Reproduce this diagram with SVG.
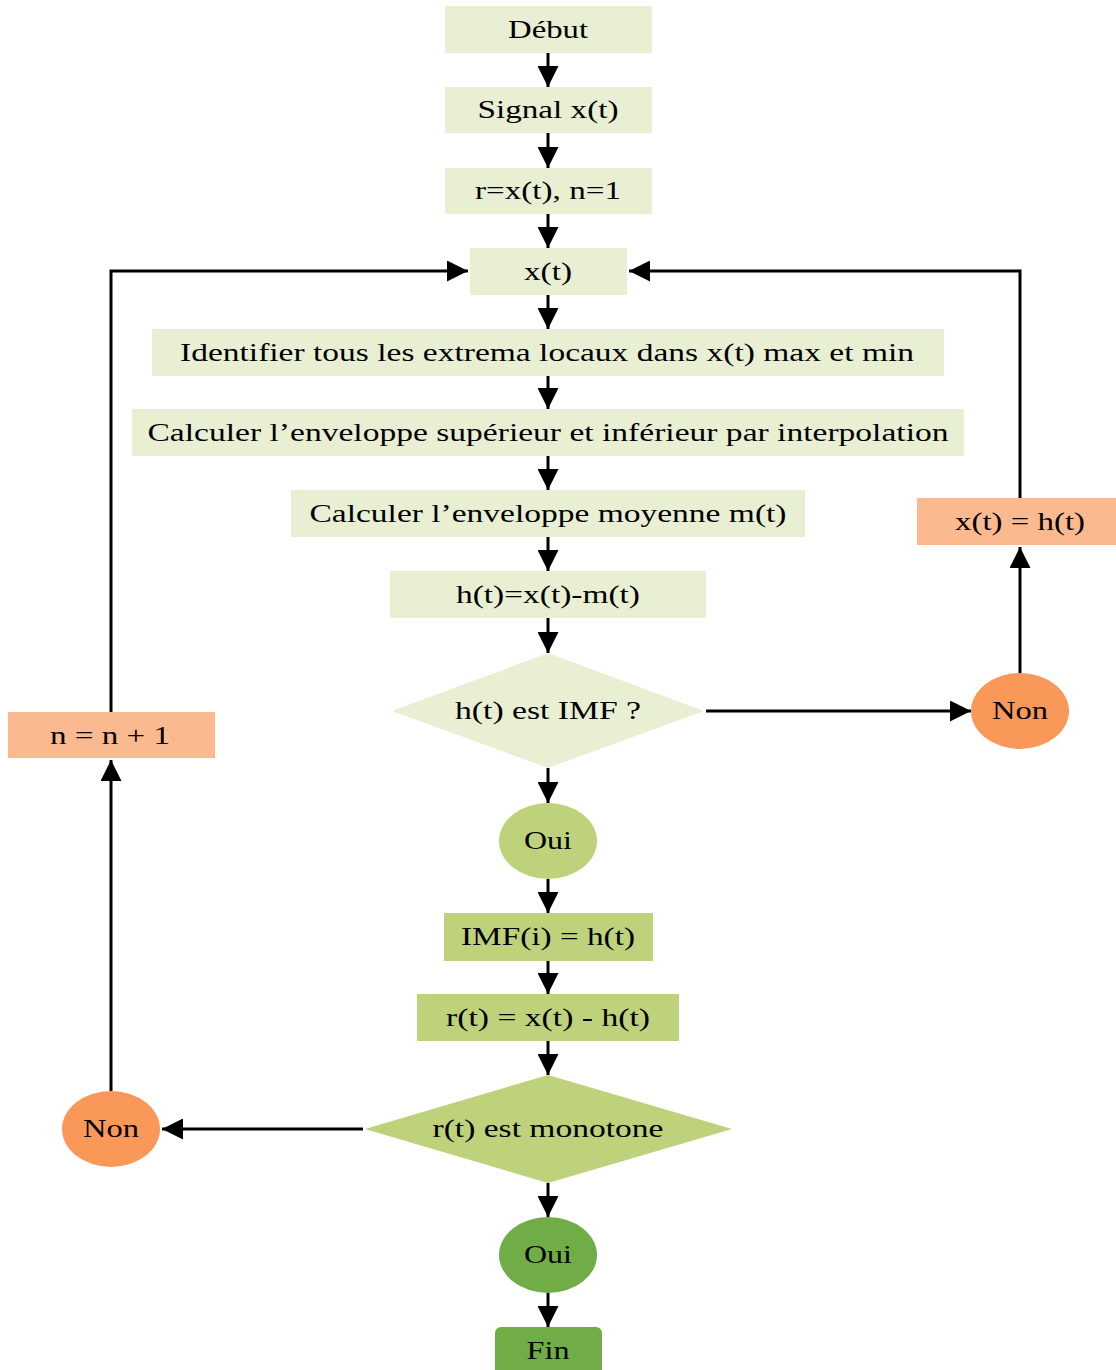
<svg xmlns="http://www.w3.org/2000/svg" width="1116" height="1370" viewBox="0 0 1116 1370">
  <defs>
    <style>
      .t { font-family: "Liberation Serif", "Times New Roman", serif; font-size: 26px; fill: #000; text-anchor: middle; }
      .pale { fill: #E9EFD3; }
      .mid { fill: #BDD27B; }
      .dark { fill: #70AD47; }
      .peach { fill: #FBB98F; }
      .orange { fill: #F99858; }
      .edge { fill: none; stroke: #000; stroke-width: 3; }
    </style>
    <marker id="arrow" viewBox="0 0 10 10" refX="10" refY="5" markerWidth="7" markerHeight="7" markerUnits="strokeWidth" orient="auto">
      <path d="M0,0 L10,5 L0,10 Z" fill="#000"/>
    </marker>
  </defs>
  <rect width="1116" height="1370" fill="#fff"/>

  <!-- connectors -->
  <g id="connectors" class="edge" marker-end="url(#arrow)">
    <line x1="548" y1="53" x2="548" y2="87"/>
    <line x1="548" y1="133" x2="548" y2="168"/>
    <line x1="548" y1="214" x2="548" y2="248"/>
    <line x1="548" y1="295" x2="548" y2="329"/>
    <line x1="548" y1="376" x2="548" y2="409"/>
    <line x1="548" y1="456" x2="548" y2="490"/>
    <line x1="548" y1="537" x2="548" y2="571"/>
    <line x1="548" y1="618" x2="548" y2="653"/>
    <line x1="548" y1="768" x2="548" y2="803"/>
    <line x1="548" y1="879" x2="548" y2="913"/>
    <line x1="548" y1="961" x2="548" y2="994"/>
    <line x1="548" y1="1041" x2="548" y2="1075"/>
    <line x1="548" y1="1183" x2="548" y2="1217"/>
    <line x1="548" y1="1293" x2="548" y2="1327"/>
    <!-- IMF test: no branch -->
    <line x1="706" y1="711" x2="971" y2="711"/>
    <line x1="1020" y1="673" x2="1020" y2="547"/>
    <polyline points="1020,498 1020,271 629,271"/>
    <!-- monotone test: no branch -->
    <line x1="363" y1="1129" x2="162" y2="1129"/>
    <line x1="111" y1="1091" x2="111" y2="760"/>
    <polyline points="111,712 111,271 468,271"/>
  </g>

  <!-- nodes -->
  <g id="debut">
    <rect class="pale" x="445" y="6" width="207" height="47"/>
    <text class="t" x="548" y="38" textLength="80" lengthAdjust="spacingAndGlyphs">Début</text>
  </g>
  <g id="signal">
    <rect class="pale" x="445" y="87" width="207" height="46"/>
    <text class="t" x="548" y="118" textLength="141" lengthAdjust="spacingAndGlyphs">Signal x(t)</text>
  </g>
  <g id="init">
    <rect class="pale" x="445" y="168" width="207" height="46"/>
    <text class="t" x="548" y="199" textLength="146" lengthAdjust="spacingAndGlyphs">r=x(t), n=1</text>
  </g>
  <g id="xt">
    <rect class="pale" x="470" y="248" width="157" height="47"/>
    <text class="t" x="548" y="280" textLength="48" lengthAdjust="spacingAndGlyphs">x(t)</text>
  </g>
  <g id="extrema">
    <rect class="pale" x="152" y="329" width="792" height="47"/>
    <text class="t" x="547" y="361" textLength="734" lengthAdjust="spacingAndGlyphs">Identifier tous les extrema locaux dans x(t) max et min</text>
  </g>
  <g id="envelopes">
    <rect class="pale" x="132" y="409" width="832" height="47"/>
    <text class="t" x="548" y="441" textLength="801" lengthAdjust="spacingAndGlyphs">Calculer l’enveloppe supérieur et inférieur par interpolation</text>
  </g>
  <g id="mean">
    <rect class="pale" x="291" y="490" width="514" height="47"/>
    <text class="t" x="548" y="522" textLength="477" lengthAdjust="spacingAndGlyphs">Calculer l’enveloppe moyenne m(t)</text>
  </g>
  <g id="ht">
    <rect class="pale" x="390" y="571" width="316" height="47"/>
    <text class="t" x="548" y="603" textLength="184" lengthAdjust="spacingAndGlyphs">h(t)=x(t)-m(t)</text>
  </g>
  <g id="is-imf">
    <polygon class="pale" points="548,653 704,711 548,768 392,711"/>
    <text class="t" x="548" y="719" textLength="186" lengthAdjust="spacingAndGlyphs">h(t) est IMF ?</text>
  </g>
  <g id="oui-imf">
    <ellipse class="mid" cx="548" cy="841" rx="49" ry="38"/>
    <text class="t" x="548" y="849" textLength="48" lengthAdjust="spacingAndGlyphs">Oui</text>
  </g>
  <g id="imf">
    <rect class="mid" x="444" y="913" width="209" height="48"/>
    <text class="t" x="548" y="945" textLength="174" lengthAdjust="spacingAndGlyphs">IMF(i) = h(t)</text>
  </g>
  <g id="residue">
    <rect class="mid" x="417" y="994" width="262" height="47"/>
    <text class="t" x="548" y="1026" textLength="204" lengthAdjust="spacingAndGlyphs">r(t) = x(t) - h(t)</text>
  </g>
  <g id="is-monotone">
    <polygon class="mid" points="548,1075 732,1129 548,1183 365,1129"/>
    <text class="t" x="548" y="1137" textLength="231" lengthAdjust="spacingAndGlyphs">r(t) est monotone</text>
  </g>
  <g id="oui-end">
    <ellipse class="dark" cx="548" cy="1255" rx="49" ry="38"/>
    <text class="t" x="548" y="1263" textLength="48" lengthAdjust="spacingAndGlyphs">Oui</text>
  </g>
  <g id="fin">
    <rect class="dark" x="495" y="1327" width="107" height="52" rx="6"/>
    <text class="t" x="548" y="1359" textLength="43" lengthAdjust="spacingAndGlyphs">Fin</text>
  </g>
  <g id="non-imf">
    <ellipse class="orange" cx="1020" cy="711" rx="49" ry="38"/>
    <text class="t" x="1020" y="719" textLength="56" lengthAdjust="spacingAndGlyphs">Non</text>
  </g>
  <g id="update-x">
    <rect class="peach" x="917" y="498" width="199" height="47"/>
    <text class="t" x="1020" y="530" textLength="130" lengthAdjust="spacingAndGlyphs">x(t) = h(t)</text>
  </g>
  <g id="non-monotone">
    <ellipse class="orange" cx="111" cy="1129" rx="49" ry="38"/>
    <text class="t" x="111" y="1137" textLength="56" lengthAdjust="spacingAndGlyphs">Non</text>
  </g>
  <g id="increment">
    <rect class="peach" x="8" y="712" width="207" height="46"/>
    <text class="t" x="110" y="744" textLength="120" lengthAdjust="spacingAndGlyphs">n = n + 1</text>
  </g>
</svg>
